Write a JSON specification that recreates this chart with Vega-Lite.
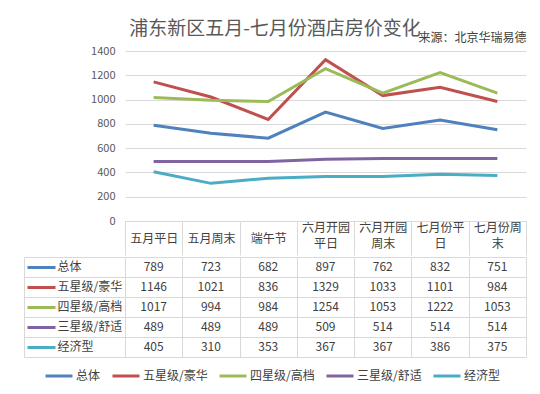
{
  "$schema": "https://vega.github.io/schema/vega-lite/v6.json",
  "padding": {"left": 23, "top": 20, "right": 14, "bottom": 0},
  "background": "white",
  "title": {
    "text": "浦东新区五月-七月份酒店房价变化",
    "fontSize": 19,
    "fontWeight": "normal",
    "color": "#595959",
    "anchor": "middle",
    "frame": "bounds",
    "offset": -7
  },
  "config": {
    "font": "Noto Sans CJK SC",
    "view": {"stroke": null}
  },
  "data": {
    "values": [
      {"类别": "五月平日", "系列": "总体", "价格": 789},
      {"类别": "五月周末", "系列": "总体", "价格": 723},
      {"类别": "端午节", "系列": "总体", "价格": 682},
      {"类别": "六月开园平日", "系列": "总体", "价格": 897},
      {"类别": "六月开园周末", "系列": "总体", "价格": 762},
      {"类别": "七月份平日", "系列": "总体", "价格": 832},
      {"类别": "七月份周末", "系列": "总体", "价格": 751},
      {"类别": "五月平日", "系列": "五星级/豪华", "价格": 1146},
      {"类别": "五月周末", "系列": "五星级/豪华", "价格": 1021},
      {"类别": "端午节", "系列": "五星级/豪华", "价格": 836},
      {"类别": "六月开园平日", "系列": "五星级/豪华", "价格": 1329},
      {"类别": "六月开园周末", "系列": "五星级/豪华", "价格": 1033},
      {"类别": "七月份平日", "系列": "五星级/豪华", "价格": 1101},
      {"类别": "七月份周末", "系列": "五星级/豪华", "价格": 984},
      {"类别": "五月平日", "系列": "四星级/高档", "价格": 1017},
      {"类别": "五月周末", "系列": "四星级/高档", "价格": 994},
      {"类别": "端午节", "系列": "四星级/高档", "价格": 984},
      {"类别": "六月开园平日", "系列": "四星级/高档", "价格": 1254},
      {"类别": "六月开园周末", "系列": "四星级/高档", "价格": 1053},
      {"类别": "七月份平日", "系列": "四星级/高档", "价格": 1222},
      {"类别": "七月份周末", "系列": "四星级/高档", "价格": 1053},
      {"类别": "五月平日", "系列": "三星级/舒适", "价格": 489},
      {"类别": "五月周末", "系列": "三星级/舒适", "价格": 489},
      {"类别": "端午节", "系列": "三星级/舒适", "价格": 489},
      {"类别": "六月开园平日", "系列": "三星级/舒适", "价格": 509},
      {"类别": "六月开园周末", "系列": "三星级/舒适", "价格": 514},
      {"类别": "七月份平日", "系列": "三星级/舒适", "价格": 514},
      {"类别": "七月份周末", "系列": "三星级/舒适", "价格": 514},
      {"类别": "五月平日", "系列": "经济型", "价格": 405},
      {"类别": "五月周末", "系列": "经济型", "价格": 310},
      {"类别": "端午节", "系列": "经济型", "价格": 353},
      {"类别": "六月开园平日", "系列": "经济型", "价格": 367},
      {"类别": "六月开园周末", "系列": "经济型", "价格": 367},
      {"类别": "七月份平日", "系列": "经济型", "价格": 386},
      {"类别": "七月份周末", "系列": "经济型", "价格": 375}
    ]
  },
  "spacing": 0,
  "vconcat": [
    {
      "width": 401,
      "height": 170,
      "title": {
        "text": "来源：北京华瑞易德",
        "anchor": "end",
        "fontSize": 12,
        "fontWeight": "normal",
        "color": "#404040",
        "offset": 0
      },
      "mark": {"type": "line", "strokeWidth": 3},
      "encoding": {
        "x": {
          "field": "类别",
          "type": "nominal",
          "sort": ["五月平日", "五月周末", "端午节", "六月开园平日", "六月开园周末", "七月份平日", "七月份周末"],
          "scale": {"type": "band", "paddingInner": 0, "paddingOuter": 0},
          "bandPosition": 0.5,
          "axis": {
            "orient": "bottom",
            "title": null,
            "tickBand": "extent",
            "ticks": true,
            "tickSize": 34,
            "tickColor": "#d9d9d9",
            "domain": true,
            "domainColor": "#d9d9d9",
            "grid": false,
            "labelAngle": 0,
            "labelFontSize": 12,
            "labelColor": "#404040",
            "labelPadding": {
              "condition": {"test": "length(datum.label) > 4", "value": -28},
              "value": -17
            },
            "labelBaseline": "middle",
            "labelLineHeight": 16,
            "labelOverlap": false,
            "labelExpr": "length(datum.label) > 4 ? [substring(datum.label, 0, 4), substring(datum.label, 4)] : datum.label"
          }
        },
        "y": {
          "field": "价格",
          "type": "quantitative",
          "scale": {"domain": [0, 1400]},
          "axis": {
            "values": [0, 200, 400, 600, 800, 1000, 1200, 1400],
            "format": "d",
            "title": null,
            "grid": true,
            "gridColor": "#d9d9d9",
            "domain": false,
            "ticks": false,
            "labelColor": "#595959",
            "labelFontSize": 11,
            "labelPadding": 10,
            "minExtent": 101
          }
        },
        "color": {
          "field": "系列",
          "type": "nominal",
          "scale": {
            "domain": ["总体", "五星级/豪华", "四星级/高档", "三星级/舒适", "经济型"],
            "range": ["#4F81BD", "#C0504D", "#9BBB59", "#8064A2", "#4BACC6"]
          },
          "legend": {
            "orient": "none",
            "legendX": -81,
            "legendY": 310,
            "direction": "horizontal",
            "title": null,
            "symbolType": "stroke",
            "symbolSize": 729,
            "symbolStrokeWidth": 3,
            "labelFontSize": 12,
            "labelColor": "#404040",
            "labelOffset": 2,
            "columnPadding": 5
          }
        }
      }
    },
    {
      "width": 401,
      "height": 100,
      "layer": [
        {
          "mark": {"type": "text", "fontSize": 12, "color": "#404040"},
          "encoding": {
            "x": {
              "field": "类别",
              "type": "nominal",
              "sort": ["五月平日", "五月周末", "端午节", "六月开园平日", "六月开园周末", "七月份平日", "七月份周末"],
              "scale": {"type": "band", "paddingInner": 0, "paddingOuter": 0},
              "axis": {
                "orient": "top",
                "title": null,
                "tickBand": "extent",
                "grid": true,
                "gridColor": "#d9d9d9",
                "ticks": false,
                "labels": false,
                "domain": false
              }
            },
            "y": {
              "field": "系列",
              "type": "nominal",
              "sort": ["总体", "五星级/豪华", "四星级/高档", "三星级/舒适", "经济型"],
              "scale": {"type": "band", "paddingInner": 0, "paddingOuter": 0},
              "axis": {
                "orient": "left",
                "title": null,
                "tickBand": "extent",
                "grid": true,
                "gridColor": "#d9d9d9",
                "ticks": true,
                "tickSize": 101,
                "tickColor": "#d9d9d9",
                "labels": false,
                "domain": false
              }
            },
            "text": {"field": "价格", "type": "quantitative"}
          }
        },
        {
          "mark": {"type": "text", "opacity": 0},
          "encoding": {
            "y": {
              "field": "系列",
              "type": "nominal",
              "sort": ["总体", "五星级/豪华", "四星级/高档", "三星级/舒适", "经济型"],
              "axis": {
                "orient": "left",
                "offset": 70,
                "title": null,
                "grid": false,
                "domain": false,
                "ticks": true,
                "tickSize": 28,
                "tickWidth": 3,
                "tickCap": "butt",
                "tickColor": {
                  "condition": [
                    {"test": "datum.value === '总体'", "value": "#4F81BD"},
                    {"test": "datum.value === '五星级/豪华'", "value": "#C0504D"},
                    {"test": "datum.value === '四星级/高档'", "value": "#9BBB59"},
                    {"test": "datum.value === '三星级/舒适'", "value": "#8064A2"}
                  ],
                  "value": "#4BACC6"
                },
                "labelAlign": "left",
                "labelPadding": -30,
                "labelFontSize": 12,
                "labelColor": "#404040"
              }
            },
            "text": {"field": "价格", "type": "quantitative"}
          }
        },
        {
          "mark": {"type": "text", "opacity": 0},
          "encoding": {
            "y": {
              "field": "系列",
              "type": "nominal",
              "sort": ["总体", "五星级/豪华", "四星级/高档", "三星级/舒适", "经济型"],
              "axis": {
                "orient": "left",
                "offset": 101,
                "title": null,
                "grid": false,
                "domain": true,
                "domainColor": "#d9d9d9",
                "ticks": false,
                "labels": false
              }
            },
            "text": {"field": "价格", "type": "quantitative"}
          }
        }
      ],
      "resolve": {"axis": {"y": "independent"}}
    }
  ]
}
